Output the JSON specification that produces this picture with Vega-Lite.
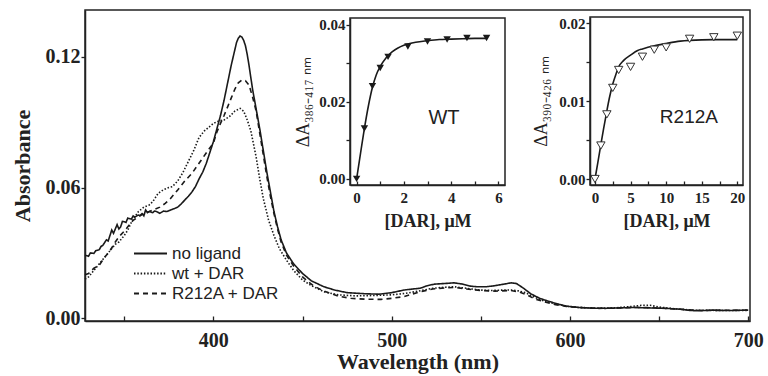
{
  "$schema": "https://vega.github.io/schema/vega-lite/v6.json",
  "width": 665,
  "height": 311,
  "autosize": {"type": "none"},
  "padding": {"left": 85, "top": 10, "right": 18, "bottom": 55},
  "background": "white",
  "config": {
    "view": {"stroke": "#222", "strokeWidth": 1.5},
    "axis": {
      "grid": false,
      "domainColor": "#222",
      "domainWidth": 1.5,
      "tickColor": "#222",
      "tickWidth": 1.3,
      "labelColor": "#222",
      "titleColor": "#222",
      "labelFont": "Liberation Serif",
      "titleFont": "Liberation Serif",
      "labelFontWeight": "bold",
      "titleFontWeight": "bold",
      "labelFlush": false,
      "labelOverlap": false
    },
    "legend": {
      "orient": "none",
      "legendX": 57,
      "legendY": 235,
      "padding": 0,
      "rowPadding": 2,
      "labelFont": "Liberation Sans",
      "labelFontSize": 17,
      "labelColor": "#222",
      "labelOffset": 13,
      "symbolType": "M-4,0H4",
      "symbolSize": 68,
      "symbolStrokeWidth": 1.8,
      "symbolStrokeColor": "#1a1a1a",
      "symbolOffset": 0
    }
  },
  "datasets": {
    "spectra": [
      {"w":328,"a":0.029,"s":"no ligand"},{"w":330,"a":0.0285,"s":"no ligand"},{"w":331,"a":0.030,"s":"no ligand"},{"w":333,"a":0.0298,"s":"no ligand"},{"w":334,"a":0.031,"s":"no ligand"},{"w":336,"a":0.0315,"s":"no ligand"},{"w":337,"a":0.033,"s":"no ligand"},{"w":338,"a":0.0335,"s":"no ligand"},{"w":340,"a":0.036,"s":"no ligand"},{"w":341,"a":0.0355,"s":"no ligand"},{"w":342,"a":0.038,"s":"no ligand"},{"w":343,"a":0.0405,"s":"no ligand"},{"w":344,"a":0.039,"s":"no ligand"},{"w":345,"a":0.041,"s":"no ligand"},{"w":346,"a":0.043,"s":"no ligand"},{"w":347,"a":0.041,"s":"no ligand"},{"w":348,"a":0.042,"s":"no ligand"},{"w":349,"a":0.0445,"s":"no ligand"},{"w":350,"a":0.0443,"s":"no ligand"},{"w":351,"a":0.044,"s":"no ligand"},{"w":352,"a":0.046,"s":"no ligand"},{"w":354,"a":0.0455,"s":"no ligand"},{"w":355,"a":0.047,"s":"no ligand"},{"w":356,"a":0.0465,"s":"no ligand"},{"w":358,"a":0.0474,"s":"no ligand"},{"w":359,"a":0.0472,"s":"no ligand"},{"w":360,"a":0.048,"s":"no ligand"},{"w":361,"a":0.047,"s":"no ligand"},{"w":362,"a":0.0497,"s":"no ligand"},{"w":363,"a":0.0485,"s":"no ligand"},{"w":364,"a":0.049,"s":"no ligand"},{"w":366,"a":0.0485,"s":"no ligand"},{"w":367,"a":0.0492,"s":"no ligand"},{"w":368,"a":0.049,"s":"no ligand"},{"w":370,"a":0.0482,"s":"no ligand"},{"w":372,"a":0.0492,"s":"no ligand"},{"w":374,"a":0.049,"s":"no ligand"},{"w":376,"a":0.0497,"s":"no ligand"},{"w":378,"a":0.0503,"s":"no ligand"},{"w":380,"a":0.051,"s":"no ligand"},{"w":382,"a":0.0525,"s":"no ligand"},{"w":384,"a":0.0543,"s":"no ligand"},{"w":386,"a":0.056,"s":"no ligand"},{"w":388,"a":0.058,"s":"no ligand"},{"w":390,"a":0.0605,"s":"no ligand"},{"w":392,"a":0.064,"s":"no ligand"},{"w":394,"a":0.067,"s":"no ligand"},{"w":396,"a":0.071,"s":"no ligand"},{"w":398,"a":0.076,"s":"no ligand"},{"w":400,"a":0.081,"s":"no ligand"},{"w":402,"a":0.087,"s":"no ligand"},{"w":404,"a":0.093,"s":"no ligand"},{"w":406,"a":0.1,"s":"no ligand"},{"w":408,"a":0.108,"s":"no ligand"},{"w":410,"a":0.116,"s":"no ligand"},{"w":412,"a":0.123,"s":"no ligand"},{"w":413,"a":0.1265,"s":"no ligand"},{"w":414,"a":0.1285,"s":"no ligand"},{"w":415,"a":0.1295,"s":"no ligand"},{"w":416,"a":0.129,"s":"no ligand"},{"w":417,"a":0.1275,"s":"no ligand"},{"w":418,"a":0.125,"s":"no ligand"},{"w":419,"a":0.121,"s":"no ligand"},{"w":420,"a":0.116,"s":"no ligand"},{"w":422,"a":0.105,"s":"no ligand"},{"w":424,"a":0.096,"s":"no ligand"},{"w":426,"a":0.087,"s":"no ligand"},{"w":428,"a":0.077,"s":"no ligand"},{"w":430,"a":0.067,"s":"no ligand"},{"w":432,"a":0.058,"s":"no ligand"},{"w":434,"a":0.049,"s":"no ligand"},{"w":436,"a":0.042,"s":"no ligand"},{"w":438,"a":0.036,"s":"no ligand"},{"w":441,"a":0.030,"s":"no ligand"},{"w":445,"a":0.025,"s":"no ligand"},{"w":450,"a":0.0206,"s":"no ligand"},{"w":455,"a":0.0172,"s":"no ligand"},{"w":462,"a":0.0145,"s":"no ligand"},{"w":468,"a":0.013,"s":"no ligand"},{"w":475,"a":0.0118,"s":"no ligand"},{"w":485,"a":0.0113,"s":"no ligand"},{"w":493,"a":0.0111,"s":"no ligand"},{"w":500,"a":0.0118,"s":"no ligand"},{"w":507,"a":0.013,"s":"no ligand"},{"w":512,"a":0.0135,"s":"no ligand"},{"w":516,"a":0.0138,"s":"no ligand"},{"w":520,"a":0.015,"s":"no ligand"},{"w":524,"a":0.0157,"s":"no ligand"},{"w":530,"a":0.016,"s":"no ligand"},{"w":535,"a":0.0163,"s":"no ligand"},{"w":540,"a":0.0157,"s":"no ligand"},{"w":544,"a":0.0148,"s":"no ligand"},{"w":548,"a":0.0145,"s":"no ligand"},{"w":553,"a":0.0145,"s":"no ligand"},{"w":558,"a":0.015,"s":"no ligand"},{"w":563,"a":0.0157,"s":"no ligand"},{"w":567,"a":0.0163,"s":"no ligand"},{"w":570,"a":0.016,"s":"no ligand"},{"w":574,"a":0.0138,"s":"no ligand"},{"w":578,"a":0.0113,"s":"no ligand"},{"w":583,"a":0.0092,"s":"no ligand"},{"w":589,"a":0.0076,"s":"no ligand"},{"w":594,"a":0.0064,"s":"no ligand"},{"w":598,"a":0.0056,"s":"no ligand"},{"w":605,"a":0.005,"s":"no ligand"},{"w":612,"a":0.0047,"s":"no ligand"},{"w":620,"a":0.0046,"s":"no ligand"},{"w":628,"a":0.0048,"s":"no ligand"},{"w":636,"a":0.005,"s":"no ligand"},{"w":645,"a":0.0048,"s":"no ligand"},{"w":654,"a":0.0046,"s":"no ligand"},{"w":662,"a":0.0042,"s":"no ligand"},{"w":668,"a":0.0036,"s":"no ligand"},{"w":673,"a":0.0035,"s":"no ligand"},{"w":680,"a":0.0038,"s":"no ligand"},{"w":688,"a":0.0036,"s":"no ligand"},{"w":695,"a":0.0037,"s":"no ligand"},{"w":700,"a":0.0038,"s":"no ligand"},

      {"w":328,"a":0.018,"s":"wt + DAR"},{"w":330,"a":0.019,"s":"wt + DAR"},{"w":333,"a":0.022,"s":"wt + DAR"},{"w":336,"a":0.025,"s":"wt + DAR"},{"w":339,"a":0.028,"s":"wt + DAR"},{"w":342,"a":0.031,"s":"wt + DAR"},{"w":345,"a":0.034,"s":"wt + DAR"},{"w":347,"a":0.035,"s":"wt + DAR"},{"w":350,"a":0.038,"s":"wt + DAR"},{"w":352,"a":0.0405,"s":"wt + DAR"},{"w":354,"a":0.044,"s":"wt + DAR"},{"w":356,"a":0.0466,"s":"wt + DAR"},{"w":358,"a":0.049,"s":"wt + DAR"},{"w":361,"a":0.051,"s":"wt + DAR"},{"w":364,"a":0.052,"s":"wt + DAR"},{"w":366,"a":0.0535,"s":"wt + DAR"},{"w":369,"a":0.0573,"s":"wt + DAR"},{"w":372,"a":0.059,"s":"wt + DAR"},{"w":375,"a":0.06,"s":"wt + DAR"},{"w":377,"a":0.0604,"s":"wt + DAR"},{"w":380,"a":0.063,"s":"wt + DAR"},{"w":383,"a":0.067,"s":"wt + DAR"},{"w":386,"a":0.072,"s":"wt + DAR"},{"w":389,"a":0.077,"s":"wt + DAR"},{"w":392,"a":0.083,"s":"wt + DAR"},{"w":395,"a":0.086,"s":"wt + DAR"},{"w":398,"a":0.088,"s":"wt + DAR"},{"w":400,"a":0.0894,"s":"wt + DAR"},{"w":403,"a":0.0905,"s":"wt + DAR"},{"w":406,"a":0.091,"s":"wt + DAR"},{"w":409,"a":0.0925,"s":"wt + DAR"},{"w":412,"a":0.095,"s":"wt + DAR"},{"w":415,"a":0.0963,"s":"wt + DAR"},{"w":417,"a":0.095,"s":"wt + DAR"},{"w":419,"a":0.091,"s":"wt + DAR"},{"w":421,"a":0.086,"s":"wt + DAR"},{"w":424,"a":0.074,"s":"wt + DAR"},{"w":426,"a":0.064,"s":"wt + DAR"},{"w":428,"a":0.055,"s":"wt + DAR"},{"w":431,"a":0.045,"s":"wt + DAR"},{"w":434,"a":0.038,"s":"wt + DAR"},{"w":437,"a":0.032,"s":"wt + DAR"},{"w":441,"a":0.0267,"s":"wt + DAR"},{"w":445,"a":0.022,"s":"wt + DAR"},{"w":450,"a":0.0176,"s":"wt + DAR"},{"w":455,"a":0.015,"s":"wt + DAR"},{"w":462,"a":0.0122,"s":"wt + DAR"},{"w":470,"a":0.0108,"s":"wt + DAR"},{"w":480,"a":0.0103,"s":"wt + DAR"},{"w":490,"a":0.0105,"s":"wt + DAR"},{"w":500,"a":0.0108,"s":"wt + DAR"},{"w":508,"a":0.0115,"s":"wt + DAR"},{"w":515,"a":0.0125,"s":"wt + DAR"},{"w":523,"a":0.0138,"s":"wt + DAR"},{"w":530,"a":0.0143,"s":"wt + DAR"},{"w":535,"a":0.0145,"s":"wt + DAR"},{"w":542,"a":0.0138,"s":"wt + DAR"},{"w":549,"a":0.013,"s":"wt + DAR"},{"w":556,"a":0.0128,"s":"wt + DAR"},{"w":563,"a":0.013,"s":"wt + DAR"},{"w":567,"a":0.013,"s":"wt + DAR"},{"w":571,"a":0.0126,"s":"wt + DAR"},{"w":575,"a":0.0118,"s":"wt + DAR"},{"w":580,"a":0.0098,"s":"wt + DAR"},{"w":586,"a":0.0078,"s":"wt + DAR"},{"w":592,"a":0.0066,"s":"wt + DAR"},{"w":598,"a":0.0056,"s":"wt + DAR"},{"w":605,"a":0.005,"s":"wt + DAR"},{"w":615,"a":0.0047,"s":"wt + DAR"},{"w":625,"a":0.0048,"s":"wt + DAR"},{"w":635,"a":0.0055,"s":"wt + DAR"},{"w":640,"a":0.006,"s":"wt + DAR"},{"w":645,"a":0.006,"s":"wt + DAR"},{"w":650,"a":0.0052,"s":"wt + DAR"},{"w":660,"a":0.0043,"s":"wt + DAR"},{"w":670,"a":0.0037,"s":"wt + DAR"},{"w":680,"a":0.0037,"s":"wt + DAR"},{"w":690,"a":0.0036,"s":"wt + DAR"},{"w":700,"a":0.0037,"s":"wt + DAR"},

      {"w":328,"a":0.02,"s":"R212A + DAR"},{"w":330,"a":0.0206,"s":"R212A + DAR"},{"w":333,"a":0.023,"s":"R212A + DAR"},{"w":336,"a":0.0244,"s":"R212A + DAR"},{"w":339,"a":0.028,"s":"R212A + DAR"},{"w":342,"a":0.031,"s":"R212A + DAR"},{"w":345,"a":0.035,"s":"R212A + DAR"},{"w":347,"a":0.0374,"s":"R212A + DAR"},{"w":350,"a":0.04,"s":"R212A + DAR"},{"w":352,"a":0.042,"s":"R212A + DAR"},{"w":355,"a":0.045,"s":"R212A + DAR"},{"w":358,"a":0.0465,"s":"R212A + DAR"},{"w":361,"a":0.0482,"s":"R212A + DAR"},{"w":364,"a":0.049,"s":"R212A + DAR"},{"w":367,"a":0.05,"s":"R212A + DAR"},{"w":370,"a":0.051,"s":"R212A + DAR"},{"w":373,"a":0.0527,"s":"R212A + DAR"},{"w":376,"a":0.055,"s":"R212A + DAR"},{"w":380,"a":0.0589,"s":"R212A + DAR"},{"w":384,"a":0.063,"s":"R212A + DAR"},{"w":388,"a":0.0665,"s":"R212A + DAR"},{"w":391,"a":0.07,"s":"R212A + DAR"},{"w":394,"a":0.0735,"s":"R212A + DAR"},{"w":397,"a":0.077,"s":"R212A + DAR"},{"w":400,"a":0.0803,"s":"R212A + DAR"},{"w":402,"a":0.0855,"s":"R212A + DAR"},{"w":404,"a":0.0894,"s":"R212A + DAR"},{"w":406,"a":0.093,"s":"R212A + DAR"},{"w":408,"a":0.097,"s":"R212A + DAR"},{"w":410,"a":0.101,"s":"R212A + DAR"},{"w":412,"a":0.105,"s":"R212A + DAR"},{"w":414,"a":0.108,"s":"R212A + DAR"},{"w":416,"a":0.1093,"s":"R212A + DAR"},{"w":418,"a":0.109,"s":"R212A + DAR"},{"w":420,"a":0.107,"s":"R212A + DAR"},{"w":422,"a":0.1015,"s":"R212A + DAR"},{"w":424,"a":0.095,"s":"R212A + DAR"},{"w":426,"a":0.085,"s":"R212A + DAR"},{"w":428,"a":0.075,"s":"R212A + DAR"},{"w":430,"a":0.065,"s":"R212A + DAR"},{"w":432,"a":0.056,"s":"R212A + DAR"},{"w":434,"a":0.048,"s":"R212A + DAR"},{"w":436,"a":0.041,"s":"R212A + DAR"},{"w":438,"a":0.035,"s":"R212A + DAR"},{"w":441,"a":0.029,"s":"R212A + DAR"},{"w":445,"a":0.024,"s":"R212A + DAR"},{"w":450,"a":0.019,"s":"R212A + DAR"},{"w":456,"a":0.015,"s":"R212A + DAR"},{"w":462,"a":0.0125,"s":"R212A + DAR"},{"w":470,"a":0.0102,"s":"R212A + DAR"},{"w":477,"a":0.0092,"s":"R212A + DAR"},{"w":485,"a":0.0088,"s":"R212A + DAR"},{"w":494,"a":0.0087,"s":"R212A + DAR"},{"w":500,"a":0.0092,"s":"R212A + DAR"},{"w":507,"a":0.01,"s":"R212A + DAR"},{"w":515,"a":0.012,"s":"R212A + DAR"},{"w":523,"a":0.0135,"s":"R212A + DAR"},{"w":530,"a":0.014,"s":"R212A + DAR"},{"w":535,"a":0.0142,"s":"R212A + DAR"},{"w":542,"a":0.0135,"s":"R212A + DAR"},{"w":550,"a":0.0128,"s":"R212A + DAR"},{"w":558,"a":0.0125,"s":"R212A + DAR"},{"w":567,"a":0.0128,"s":"R212A + DAR"},{"w":572,"a":0.012,"s":"R212A + DAR"},{"w":576,"a":0.0108,"s":"R212A + DAR"},{"w":580,"a":0.009,"s":"R212A + DAR"},{"w":586,"a":0.0075,"s":"R212A + DAR"},{"w":592,"a":0.0063,"s":"R212A + DAR"},{"w":598,"a":0.0055,"s":"R212A + DAR"},{"w":605,"a":0.005,"s":"R212A + DAR"},{"w":615,"a":0.0046,"s":"R212A + DAR"},{"w":625,"a":0.0047,"s":"R212A + DAR"},{"w":635,"a":0.005,"s":"R212A + DAR"},{"w":645,"a":0.0049,"s":"R212A + DAR"},{"w":655,"a":0.0045,"s":"R212A + DAR"},{"w":665,"a":0.004,"s":"R212A + DAR"},{"w":675,"a":0.0036,"s":"R212A + DAR"},{"w":685,"a":0.0037,"s":"R212A + DAR"},{"w":700,"a":0.0037,"s":"R212A + DAR"}
    ],
    "wtpts": [
      {"c":0,"d":0},{"c":0.33,"d":0.0131},{"c":0.67,"d":0.0241},{"c":1.0,"d":0.0288},{"c":1.33,"d":0.0317},{"c":2.17,"d":0.0344},{"c":3.0,"d":0.0357},{"c":3.83,"d":0.0362},{"c":4.67,"d":0.0366},{"c":5.5,"d":0.0366}
    ],
    "wtfit": [
      {"c":0,"d":0},{"c":0.17,"d":0.0068},{"c":0.33,"d":0.0131},{"c":0.5,"d":0.019},{"c":0.67,"d":0.0238},{"c":0.83,"d":0.027},{"c":1.0,"d":0.0292},{"c":1.25,"d":0.0315},{"c":1.5,"d":0.033},{"c":1.75,"d":0.034},{"c":2.0,"d":0.0347},{"c":2.5,"d":0.0355},{"c":3.0,"d":0.0359},{"c":3.5,"d":0.0362},{"c":4.0,"d":0.0363},{"c":4.5,"d":0.0364},{"c":5.0,"d":0.0365},{"c":5.5,"d":0.0365}
    ],
    "rpts": [
      {"c":0,"d":0},{"c":0.83,"d":0.0043},{"c":1.67,"d":0.0083},{"c":2.5,"d":0.0117},{"c":3.33,"d":0.014},{"c":5.0,"d":0.0144},{"c":6.67,"d":0.0157},{"c":8.33,"d":0.0166},{"c":10,"d":0.0169},{"c":13.3,"d":0.018},{"c":16.7,"d":0.0182},{"c":20,"d":0.0184}
    ],
    "rfit": [
      {"c":0,"d":0},{"c":0.4,"d":0.0021},{"c":0.8,"d":0.0043},{"c":1.2,"d":0.0064},{"c":1.64,"d":0.0086},{"c":2.0,"d":0.0103},{"c":2.5,"d":0.0122},{"c":3.0,"d":0.0136},{"c":3.33,"d":0.0144},{"c":4.0,"d":0.0152},{"c":5,"d":0.0159},{"c":6,"d":0.0165},{"c":6.67,"d":0.0167},{"c":8.33,"d":0.0171},{"c":10,"d":0.0174},{"c":12,"d":0.0177},{"c":13.3,"d":0.0178},{"c":16.7,"d":0.0179},{"c":20,"d":0.0179}
    ]
  },
  "layer": [
    {
      "data": {"name": "spectra"},
      "mark": {"type": "line", "color": "#1a1a1a", "strokeWidth": 1.6},
      "encoding": {
        "x": {
          "field": "w", "type": "quantitative",
          "scale": {"domain": [328, 701], "nice": false, "zero": false},
          "axis": {
            "title": "Wavelength (nm)",
            "values": [350, 400, 450, 500, 550, 600, 650, 700],
            "labelExpr": "datum.value % 100 == 0 ? datum.label : ''",
            "tickSize": -5,
            "labelPadding": 14,
            "labelFontSize": 20,
            "titleFontSize": 22,
            "titlePadding": 1
          }
        },
        "y": {
          "field": "a", "type": "quantitative",
          "scale": {"domain": [-0.0012, 0.1414], "nice": false, "zero": false},
          "axis": {
            "title": "Absorbance",
            "values": [0, 0.06, 0.12],
            "format": ".2f",
            "tickSize": 4,
            "labelPadding": 1,
            "labelFontSize": 20,
            "titleFontSize": 22,
            "titlePadding": 11
          }
        },
        "strokeDash": {
          "field": "s", "type": "nominal",
          "scale": {"domain": ["no ligand", "wt + DAR", "R212A + DAR"], "range": [[1, 0], [1.5, 1.8], [5, 4]]},
          "legend": {"title": null}
        },
        "order": {"field": "w", "type": "quantitative"}
      }
    },
    {
      "layer": [
        {
          "data": {"name": "wtfit"},
          "mark": {"type": "line", "color": "#1a1a1a", "strokeWidth": 1.6, "interpolate": "monotone"},
          "encoding": {
            "x": {
              "field": "c", "type": "quantitative",
              "scale": {"domain": [-0.28, 6.28], "range": [265, 420], "nice": false, "zero": false},
              "axis": {
                "orient": "bottom", "offset": -136, "zindex": 1,
                "title": "[DAR], μM",
                "values": [0, 1, 2, 3, 4, 5, 6],
                "format": "d",
                "labelExpr": "datum.value % 2 == 0 ? datum.label : ''",
                "tickSize": -4,
                "labelPadding": 9,
                "labelFontSize": 15,
                "titleFontSize": 18,
                "titlePadding": 7
              }
            },
            "y": {
              "field": "d", "type": "quantitative",
              "scale": {"domain": [-0.0016, 0.0418], "range": [175, 8], "nice": false, "zero": false},
              "axis": {
                "orient": "left", "offset": -265, "zindex": 1,
                "title": "ΔA₃₈₆₋₄₁₇ ₙₘ",
                "titleFontWeight": "normal",
                "titleFontSize": 18,
                "titlePadding": 6,
                "values": [0, 0.01, 0.02, 0.03, 0.04],
                "labelExpr": "round(datum.value * 100) % 2 == 0 ? format(datum.value, '.2f') : ''",
                "tickSize": 4,
                "labelPadding": 1,
                "labelFontSize": 15
              }
            }
          }
        },
        {
          "data": {"name": "wtpts"},
          "mark": {"type": "point", "shape": "triangle-down", "filled": true, "color": "#1a1a1a", "size": 55, "opacity": 1},
          "encoding": {
            "x": {"field": "c", "type": "quantitative"},
            "y": {"field": "d", "type": "quantitative"}
          }
        },
        {
          "data": {"values": [{}]},
          "mark": {"type": "text", "font": "Liberation Sans", "fontSize": 20, "color": "#222", "align": "center", "baseline": "middle"},
          "encoding": {
            "x": {"datum": 3.7, "type": "quantitative"},
            "y": {"datum": 0.0159, "type": "quantitative"},
            "text": {"value": "WT"}
          }
        },
        {
          "data": {"values": [{}]},
          "mark": {"type": "rect", "filled": false, "stroke": "#222", "strokeWidth": 1.5},
          "encoding": {
            "x": {"datum": -0.28, "type": "quantitative"},
            "x2": {"datum": 6.28},
            "y": {"datum": -0.0016, "type": "quantitative"},
            "y2": {"datum": 0.0418}
          }
        }
      ]
    },
    {
      "layer": [
        {
          "data": {"name": "rfit"},
          "mark": {"type": "line", "color": "#1a1a1a", "strokeWidth": 1.6, "interpolate": "monotone"},
          "encoding": {
            "x": {
              "field": "c", "type": "quantitative",
              "scale": {"domain": [-0.7, 20.8], "range": [505, 658], "nice": false, "zero": false},
              "axis": {
                "orient": "bottom", "offset": -136, "zindex": 1,
                "title": "[DAR], μM",
                "values": [0, 2.5, 5, 7.5, 10, 12.5, 15, 17.5, 20],
                "labelExpr": "datum.value % 5 == 0 ? datum.label : ''",
                "tickSize": -4,
                "labelPadding": 9,
                "labelFontSize": 15,
                "titleFontSize": 18,
                "titlePadding": 7
              }
            },
            "y": {
              "field": "d", "type": "quantitative",
              "scale": {"domain": [-0.00077, 0.0208], "range": [175, 7], "nice": false, "zero": false},
              "axis": {
                "orient": "left", "offset": -505, "zindex": 1,
                "title": "ΔA₃₉₀₋₄₂₆ ₙₘ",
                "titleFontWeight": "normal",
                "titleFontSize": 18,
                "titlePadding": 8,
                "values": [0, 0.005, 0.01, 0.015, 0.02],
                "labelExpr": "round(datum.value * 1000) % 10 == 0 ? format(datum.value, '.2f') : ''",
                "tickSize": 4,
                "labelPadding": 1,
                "labelFontSize": 15
              }
            }
          }
        },
        {
          "data": {"name": "rpts"},
          "mark": {"type": "point", "shape": "triangle-down", "filled": false, "fill": "white", "stroke": "#333", "strokeWidth": 1, "size": 70, "opacity": 1},
          "encoding": {
            "x": {"field": "c", "type": "quantitative"},
            "y": {"field": "d", "type": "quantitative"}
          }
        },
        {
          "data": {"values": [{}]},
          "mark": {"type": "text", "font": "Liberation Sans", "fontSize": 19, "color": "#222", "align": "center", "baseline": "middle"},
          "encoding": {
            "x": {"datum": 13.2, "type": "quantitative"},
            "y": {"datum": 0.00796, "type": "quantitative"},
            "text": {"value": "R212A"}
          }
        },
        {
          "data": {"values": [{}]},
          "mark": {"type": "rect", "filled": false, "stroke": "#222", "strokeWidth": 1.5},
          "encoding": {
            "x": {"datum": -0.7, "type": "quantitative"},
            "x2": {"datum": 20.8},
            "y": {"datum": -0.00077, "type": "quantitative"},
            "y2": {"datum": 0.0208}
          }
        }
      ]
    }
  ],
  "resolve": {"scale": {"x": "independent", "y": "independent"}}
}
